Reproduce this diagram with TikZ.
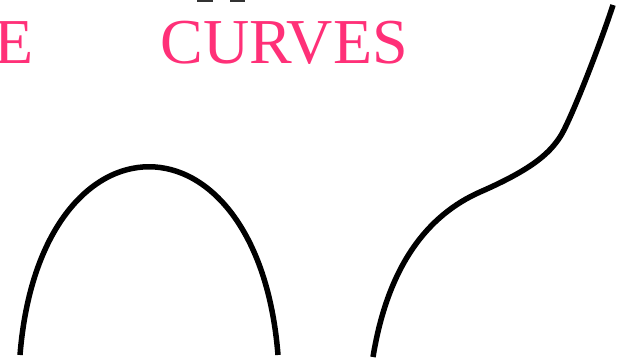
\documentclass[tikz,border=0pt]{standalone}
\usepackage{fontspec}
\setmainfont{Liberation Serif}
\definecolor{curvepink}{RGB}{255,48,120}
\begin{document}
\begin{tikzpicture}[x=1pt,y=-1pt,
  curvetext/.style={anchor=base west,inner sep=0pt,text=curvepink,font=\fontsize{64}{64}\selectfont},
  curveline/.style={line width=5.5pt,black},
  topbit/.style={fill=black!80,draw=none}]
\useasboundingbox (0,0) rectangle (617,360);
\fill[white] (0,0) rectangle (617,360);
% cut-off label bits at the top
\path[topbit] (197,0) rectangle (213,1.5);
\path[topbit] (230,0) rectangle (245,1.5);
% labels
\node[curvetext] (e) at (-6,63.5) {E};
\node[curvetext] (curves) at (160.2,63.5) {CURVES};
% arch
\coordinate (a0) at (20,355);
\coordinate (a1) at (278,355);
\draw[curveline] (a0) .. controls (40,104) and (258,104) .. (a1);
% S-curve
\coordinate (s0) at (373,357);
\coordinate (s1) at (480,192);
\coordinate (s2) at (560,137);
\coordinate (s3) at (613,5);
\draw[curveline] (s0) .. controls (388,265) and (428,215) .. (s1)
  .. controls (535,168) and (550,152) .. (s2)
  .. controls (570,122) and (600,45) .. (s3);
\end{tikzpicture}
\end{document}
